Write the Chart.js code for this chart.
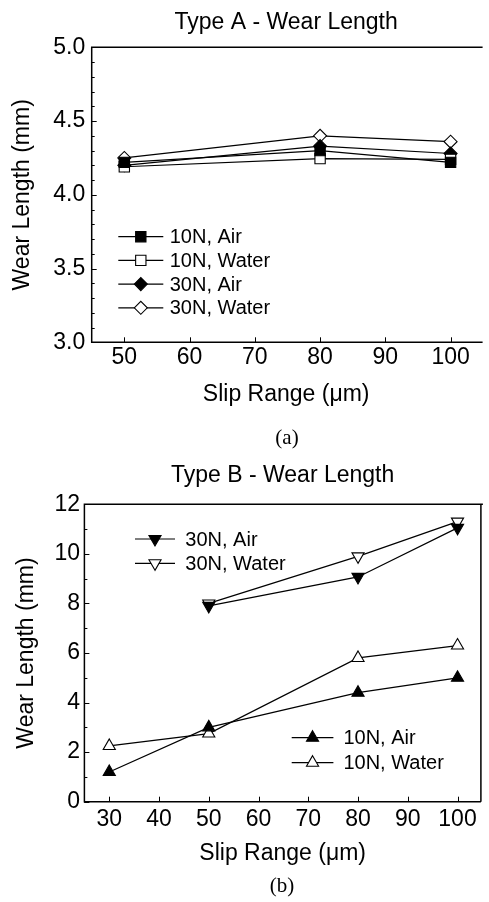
<!DOCTYPE html>
<html><head><meta charset="utf-8">
<script src="https://cdn.jsdelivr.net/npm/chart.js@4"></script>
<style>
html,body{margin:0;padding:0;background:#fff;overflow:hidden;width:489px;height:902px;position:relative;}
canvas{display:block;}
#wa{position:absolute;left:0;top:0;width:489px;height:420px;}
#wb{position:absolute;left:0;top:440px;width:489px;height:462px;}
#ca{width:489px;height:420px;}
#cb{width:489px;height:462px;}
.cap{position:absolute;font-family:"Liberation Serif","Times New Roman",serif;font-size:21px;color:#000;transform:translate(-50%,-50%);white-space:nowrap;}
</style></head><body>
<div id="wa"><canvas id="ca" width="489" height="420"></canvas></div>
<div id="wb"><canvas id="cb" width="489" height="462"></canvas></div>
<div class="cap" style="left:287px;top:437px">(a)</div>
<div class="cap" style="left:282px;top:885px">(b)</div>
<script>
// ---------- data ----------
const slipA = [50, 80, 100];
const a10Air   = [4.22, 4.30, 4.22];
const a10Water = [4.19, 4.245, 4.24];
const a30Air   = [4.20, 4.33, 4.28];
const a30Water = [4.25, 4.40, 4.36];
const xTicksA = [50, 60, 70, 80, 90, 100];
const yTicksA = [3.0, 3.5, 4.0, 4.5, 5.0];

const slipB10 = [30, 50, 80, 100];
const b10Air   = [1.2, 3.0, 4.4, 5.0];
const b10Water = [2.25, 2.75, 5.8, 6.3];
const slipB30 = [50, 80, 100];
const b30Air   = [7.9, 9.07, 11.05];
const b30Water = [8.0, 9.9, 11.3];
const xTicksB = [30, 40, 50, 60, 70, 80, 90, 100];
const yTicksB = [0, 2, 4, 6, 8, 10, 12];

// ---------- helpers ----------
const FONT = '"Liberation Sans", Arial, Helvetica, sans-serif';
const pts = (xs, ys) => xs.map((x, i) => ({x, y: ys[i]}));
function series(label, xs, ys, style, filled, radius, rot) {
  return {
    label, data: pts(xs, ys),
    borderColor: '#000', borderWidth: 1.2, tension: 0,
    pointStyle: style, pointRadius: radius, pointRotation: rot || 0,
    pointBackgroundColor: filled ? '#000' : '#fff',
    pointBorderColor: '#000', pointBorderWidth: 1.1, clip: false
  };
}

const framePlugin = {
  id: 'frame',
  beforeDatasetsDraw(chart, args, o) {
    const {ctx, chartArea: a, scales: {x, y}} = chart;
    ctx.save();
    ctx.strokeStyle = '#000';
    ctx.lineWidth = 1.5;
    ctx.beginPath();
    ctx.moveTo(a.right + 2, a.top); ctx.lineTo(a.left, a.top); ctx.lineTo(a.left, a.bottom); ctx.lineTo(a.right + (o.rightSide ? 0 : 2), a.bottom);
    if (o.rightSide) { ctx.moveTo(a.right, a.bottom); ctx.lineTo(a.right, a.top); }
    ctx.stroke();
    ctx.lineWidth = 1;
    ctx.beginPath();
    x.ticks.forEach(t => {
      const px = Math.round(x.getPixelForValue(t.value)) + 0.5;
      ctx.moveTo(px, a.bottom); ctx.lineTo(px, a.bottom - 5);
    });
    y.ticks.forEach(t => {
      const py = Math.round(y.getPixelForValue(t.value)) + 0.5;
      ctx.moveTo(a.left, py); ctx.lineTo(a.left + 5, py);
    });
    const n = Math.round((y.max - y.min) / o.yMinor);
    for (let i = 0; i <= n; i++) {
      const py = Math.round(y.getPixelForValue(y.min + i * o.yMinor)) + 0.5;
      ctx.moveTo(a.left, py); ctx.lineTo(a.left + 3, py);
    }
    ctx.stroke();
    ctx.restore();
  }
};

const insetLegend = {
  id: 'insetLegend',
  afterDatasetsDraw(chart, args, o) {
    const {ctx, chartArea: a} = chart;
    ctx.save();
    o.groups.forEach(g => {
      g.items.forEach((di, i) => {
        const ds = chart.data.datasets[di];
        const yy = a.top + g.top + i * g.gap;
        const x0 = a.left + g.x0, x1 = a.left + g.x1;
        ctx.strokeStyle = '#000';
        ctx.lineWidth = ds.borderWidth;
        ctx.beginPath(); ctx.moveTo(x0, yy); ctx.lineTo(x1, yy); ctx.stroke();
        ctx.fillStyle = ds.pointBackgroundColor;
        ctx.strokeStyle = ds.pointBorderColor;
        ctx.lineWidth = ds.pointBorderWidth;
        Chart.helpers.drawPoint(ctx, {pointStyle: ds.pointStyle, rotation: ds.pointRotation, radius: ds.pointRadius, borderWidth: ds.pointBorderWidth}, (x0 + x1) / 2, yy);
        ctx.fillStyle = '#000';
        ctx.font = o.fontSize + 'px ' + FONT;
        ctx.textAlign = 'left';
        ctx.textBaseline = 'middle';
        ctx.fillText(ds.label, a.left + g.tx, yy + 1);
      });
    });
    ctx.restore();
  }
};

function axisFont(size) { return {family: FONT, size: size, weight: 'normal'}; }

function makeOptions(p) {
  return {
    responsive: false, maintainAspectRatio: false, animation: false, devicePixelRatio: 1,
    layout: {padding: {left: 0, top: 0, right: p.padRight, bottom: p.padBottom}},
    plugins: {
      legend: {display: false}, tooltip: {enabled: false},
      title: {display: true, text: p.title, fullSize: false, color: '#000',
        font: axisFont(23), padding: {top: p.titleTop, bottom: p.titleBottom}},
      frame: {yMinor: p.yMinor, rightSide: p.rightSide},
      insetLegend: {groups: p.legend, fontSize: 20}
    },
    scales: {
      x: {
        type: 'linear', min: p.xMin, max: p.xMax,
        afterFit: s => { s.height = p.xHeight; },
        afterBuildTicks: s => { s.ticks = p.xTicks.map(v => ({value: v})); },
        grid: {display: false, drawTicks: false}, border: {display: false},
        ticks: {color: '#000', font: axisFont(23), padding: p.xTickPad, maxRotation: 0, autoSkip: false, includeBounds: false},
        title: {display: true, text: 'Slip Range (\u03bcm)', color: '#000', font: axisFont(23), padding: 0}
      },
      y: {
        type: 'linear', min: p.yMin, max: p.yMax,
        afterFit: s => { s.width = p.yWidth; },
        afterBuildTicks: s => { s.ticks = p.yTicks.map(v => ({value: v})); },
        grid: {display: false, drawTicks: false}, border: {display: false},
        ticks: {color: '#000', font: axisFont(23), padding: p.yTickPad, autoSkip: false, includeBounds: false, callback: p.yFmt},
        title: {display: true, text: 'Wear Length (mm)', color: '#000', font: axisFont(23), padding: {top: p.yTitlePad, bottom: 0}}
      }
    }
  };
}

// ---------- chart (a) ----------
new Chart(document.getElementById('ca'), {
  type: 'line',
  data: {datasets: [
    series('10N, Air',   slipA, a10Air,   'rect',    true,  7.3),
    series('10N, Water', slipA, a10Water, 'rect',    false, 7.3),
    series('30N, Air',   slipA, a30Air,   'rectRot', true,  6.5),
    series('30N, Water', slipA, a30Water, 'rectRot', false, 6.5)
  ]},
  options: makeOptions({
    title: 'Type A - Wear Length', titleTop: 8.5, titleBottom: 11.2,
    padRight: 0, padBottom: 11.2, rightSide: false,
    xMin: 45, xMax: 104.6, xTicks: xTicksA, xHeight: 66.5, xTickPad: 2,
    yMin: 3, yMax: 5, yTicks: yTicksA, yWidth: 91.7, yTickPad: 6.5, yTitlePad: 8.5,
    yMinor: 0.1, yFmt: v => Number(v).toFixed(1),
    legend: [{x0: 26.6, x1: 71.6, tx: 78, top: 189.4, gap: 23.7, items: [0, 1, 2, 3]}]
  }),
  plugins: [framePlugin, insetLegend]
});

// ---------- chart (b) ----------
new Chart(document.getElementById('cb'), {
  type: 'line',
  data: {datasets: [
    series('10N, Air',   slipB10, b10Air,   'triangle', true,  7),
    series('10N, Water', slipB10, b10Water, 'triangle', false, 7),
    series('30N, Air',   slipB30, b30Air,   'triangle', true,  7, 180),
    series('30N, Water', slipB30, b30Water, 'triangle', false, 7, 180)
  ]},
  options: makeOptions({
    title: 'Type B - Wear Length', titleTop: 22, titleBottom: 14.7,
    padRight: 1.5, padBottom: 34.9, rightSide: true,
    xMin: 25, xMax: 104.7, xTicks: xTicksB, xHeight: 65.4, xTickPad: 4,
    yMin: 0, yMax: 12, yTicks: yTicksB, yWidth: 84.4, yTickPad: 4.4, yTitlePad: 12.9,
    yMinor: 1, yFmt: v => String(v),
    legend: [
      {x0: 50.6, x1: 90.6, tx: 100.9, top: 34.7, gap: 24.3, items: [2, 3]},
      {x0: 207.3, x1: 249, tx: 259, top: 233.4, gap: 25, items: [0, 1]}
    ]
  }),
  plugins: [framePlugin, insetLegend]
});
</script>
</body></html>
